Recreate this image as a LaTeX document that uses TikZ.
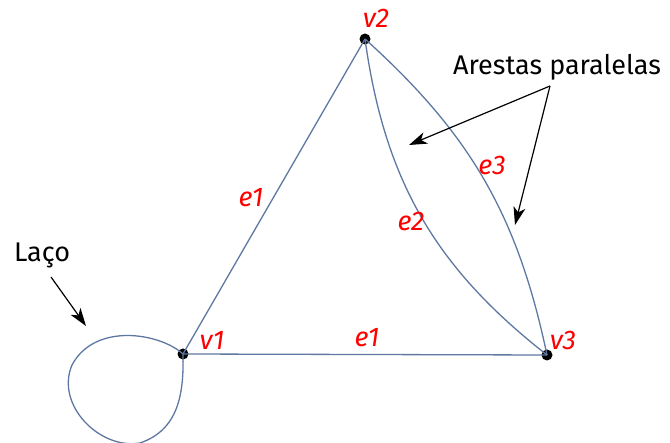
\documentclass[tikz,border=0pt]{standalone}
\usepackage{fontspec}
\setmainfont{Fira Sans}
\usepackage{xcolor}
\usetikzlibrary{arrows.meta, positioning}
\definecolor{edgeblue}{RGB}{95,120,162}

\begin{document}
\begin{tikzpicture}[
  x=1pt, y=-1pt,
  font=\fontsize{27}{32}\selectfont,
  vert/.style={circle, fill=black, minimum size=11pt, inner sep=0pt},
  edge/.style={draw=edgeblue, line width=1.3pt},
  elabel/.style={text=red, font=\fontsize{27}{32}\selectfont\itshape},
  callout/.style={-{Stealth[length=18pt, width=12pt, inset=5pt]}, line width=1.2pt}
]
\useasboundingbox (0,0) rectangle (670,443);
\clip (0,0) rectangle (670,443);
\node[vert] (v1) at (183,354) {};
\node[vert] (v2) at (365,39) {};
\node[vert] (v3) at (547,355) {};
% arestas
\draw[edge] (v1.center) -- (v2.center);
\draw[edge] (v1.center) -- (v3.center);
\draw[edge] (v2.center) to[bend right=22] (v3.center);
\draw[edge] (v2.center) to[bend left=18] (v3.center);
% laco
\draw[edge] (v1.center) .. controls (160,333) and (95,322) .. (72,365)
  .. controls (55,405) and (100,450) .. (140,443)
  .. controls (178,430) and (184,395) .. (v1.center);
% rotulos
\node[elabel] (lv1) at (212,340) {v1};
\node[elabel] (lv2) at (376,18) {v2};
\node[elabel] (lv3) at (563,340) {v3};
\node[elabel] (le1a) at (251,198) {e1};
\node[elabel] (le1b) at (367,338) {e1};
\node[elabel] (le2) at (411,221) {e2};
\node[elabel] (le3) at (492,165) {e3};
% anotacoes
\node (par) at (557,67) {Arestas paralelas};
\node (laco) at (42,255) {Laço};
\coordinate (pa) at (550,86);
\coordinate (ta) at (409,145);
\coordinate (tb) at (515,225);
\coordinate (pl) at (51,277);
\coordinate (tl) at (86,326);
\draw[callout] (pa) -- (ta);
\draw[callout] (pa) -- (tb);
\draw[callout] (pl) -- (tl);
\end{tikzpicture}
\end{document}
